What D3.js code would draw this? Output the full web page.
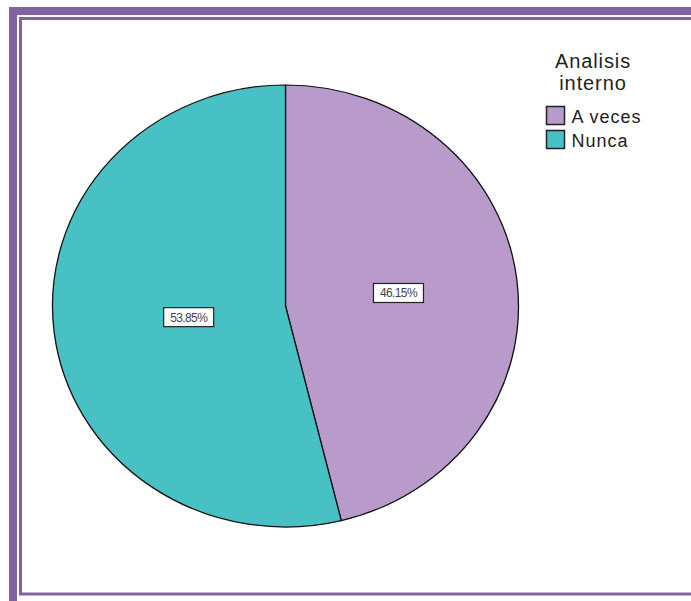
<!DOCTYPE html>
<html>
<head>
<meta charset="utf-8">
<script src="https://cdn.jsdelivr.net/npm/d3@7"></script>
<style>
  body { margin: 0; background: #fff; }
  svg { display: block; }
</style>
</head>
<body>
<svg id="chart" width="691" height="601"></svg>
<script>
const categories = ["A veces", "Nunca"];
const counts = [6, 7];
const colors = ["#B89ACB", "#48C1C5"];
const legendTitle = ["Analisis", "interno"];

const width = 691, height = 601;
const cx = 285.5, cy = 306;
const rx = 233, ry = 221;

const svg = d3.select("#chart");

// frame: thick outer band plus thin inner line
const frame = "#8064A2";
svg.append("rect")
    .attr("x", 13).attr("y", 11)
    .attr("width", 700).attr("height", 600)
    .attr("fill", "none").attr("stroke", frame).attr("stroke-width", 8);
svg.append("rect")
    .attr("x", 20.5).attr("y", 18.5)
    .attr("width", 700).attr("height", 575.5)
    .attr("fill", "none").attr("stroke", frame).attr("stroke-width", 3);

const total = d3.sum(counts);
const data = categories.map((c, i) => ({name: c, value: counts[i], color: colors[i]}));

const pie = d3.pie().sort(null).value(d => d.value);
const arcs = pie(data);

const arc = d3.arc().innerRadius(0).outerRadius(rx);

// slices, squashed vertically into an ellipse
const g = svg.append("g")
    .attr("transform", `translate(${cx},${cy}) scale(1,${ry / rx})`);

g.selectAll("path.slice")
    .data(arcs)
    .join("path")
    .attr("class", "slice")
    .attr("d", arc)
    .attr("fill", d => d.data.color)
    .attr("stroke", "#111")
    .attr("stroke-width", 1.3);

// label sits a bit past the area centroid of each wedge
function labelPos(d) {
    const half = (d.endAngle - d.startAngle) / 2;
    const mid = d.startAngle + half;
    const k = 1.07 * 2 * Math.sin(half) / (3 * half);
    return [Math.sin(mid) * k * rx, -Math.cos(mid) * k * ry];
}

// percentage labels in white boxes
const fmt = d => (d.value / total * 100).toFixed(2) + "%";
const labels = svg.append("g").attr("transform", `translate(${cx},${cy})`);
arcs.forEach(d => {
    const [x, y] = labelPos(d);
    const lg = labels.append("g").attr("transform", `translate(${x},${y})`);
    lg.append("rect")
        .attr("x", -25).attr("y", -9.5)
        .attr("width", 50).attr("height", 19)
        .attr("fill", "#fff")
        .attr("stroke", "#222").attr("stroke-width", 1.2);
    lg.append("text")
        .attr("text-anchor", "middle")
        .attr("y", 4.5)
        .attr("font-family", "Liberation Sans, Arial, sans-serif")
        .attr("font-size", 12)
        .attr("letter-spacing", -0.6)
        .attr("fill", "#444")
        .text(fmt(d));
});

// legend
const legend = svg.append("g");
legend.selectAll("text.title")
    .data(legendTitle)
    .join("text")
    .attr("class", "title")
    .attr("x", 593)
    .attr("y", (d, i) => 68 + i * 22)
    .attr("text-anchor", "middle")
    .attr("font-family", "Liberation Sans, Arial, sans-serif")
    .attr("font-size", 20)
    .attr("letter-spacing", 0.9)
    .attr("fill", "#222")
    .text(d => d);

const items = legend.selectAll("g.item")
    .data(data)
    .join("g")
    .attr("class", "item")
    .attr("transform", (d, i) => `translate(546.5,${106.5 + i * 24})`);
items.append("rect")
    .attr("width", 18).attr("height", 18)
    .attr("fill", d => d.color)
    .attr("stroke", "#222").attr("stroke-width", 1.5);
items.append("text")
    .attr("x", 25).attr("y", 16)
    .attr("font-family", "Liberation Sans, Arial, sans-serif")
    .attr("font-size", 18)
    .attr("letter-spacing", 1)
    .attr("fill", "#222")
    .text(d => d.name);
</script>
</body>
</html>
